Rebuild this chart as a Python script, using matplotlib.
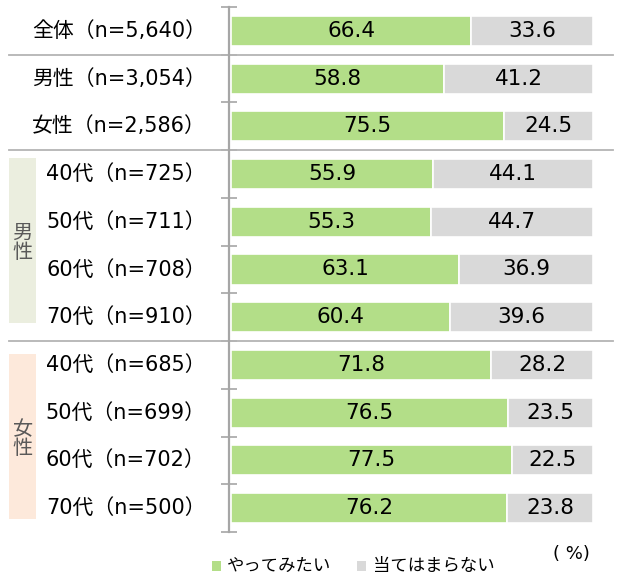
import matplotlib.pyplot as plt
from matplotlib.patches import Rectangle

plt.rcParams['font.family'] = ['DejaVu Sans', 'Noto Sans CJK JP']

labels = ["全体（n=5,640）", "男性（n=3,054）", "女性（n=2,586）",
          "40代（n=725）", "50代（n=711）", "60代（n=708）", "70代（n=910）",
          "40代（n=685）", "50代（n=699）", "60代（n=702）", "70代（n=500）"]
want = [66.4, 58.8, 75.5, 55.9, 55.3, 63.1, 60.4, 71.8, 76.5, 77.5, 76.2]
nope = [33.6, 41.2, 24.5, 44.1, 44.7, 36.9, 39.6, 28.2, 23.5, 22.5, 23.8]
series = ["やってみたい", "当てはまらない"]

GREEN = "#b3de88"
GREY = "#d9d9d9"
LINE = "#a6a6a6"

W, H = 617, 578
fig = plt.figure(figsize=(W / 100, H / 100), dpi=100)
ax = fig.add_axes([229 / W, 1 - 532 / H, (593 - 229) / W, (532 - 7) / H])

y = range(len(labels))
ax.barh(y, want, left=0, height=0.63, color=GREEN, edgecolor="white", linewidth=1.2)
ax.barh(y, nope, left=want, height=0.63, color=GREY, edgecolor="white", linewidth=1.2)

ax.set_xlim(-0.6, 100)
ax.set_ylim(len(labels) - 0.5, -0.5)

for i in y:
    ax.text(want[i] / 2, i, f"{want[i]:.1f}", ha="center", va="center", fontsize=15.5)
    ax.text(want[i] + nope[i] / 2, i, f"{nope[i]:.1f}", ha="center", va="center", fontsize=15.5)
    ax.text(-0.064, i, labels[i], transform=ax.get_yaxis_transform(),
            ha="right", va="center", fontsize=15)

# axis styling
for s in ["top", "right", "bottom"]:
    ax.spines[s].set_visible(False)
ax.spines["left"].set_color(LINE)
ax.spines["left"].set_linewidth(1.6)
ax.set_xticks([])
ax.set_yticks([i - 0.5 for i in range(len(labels) + 1)])
ax.set_yticklabels([])
ax.tick_params(axis="y", direction="inout", length=11, width=1.2, color=LINE)

# group separators
for b in [0.5, 2.5, 6.5]:
    ax.plot([-0.604, 1.055], [b, b], transform=ax.get_yaxis_transform(),
            color="#b4b4b4", linewidth=1.3, clip_on=False)

# side group boxes
ax.add_patch(Rectangle((-0.604, 2.665), 0.074, 3.46, transform=ax.get_yaxis_transform(),
                       facecolor="#ebeedf", edgecolor="none", clip_on=False))
ax.add_patch(Rectangle((-0.604, 6.77), 0.074, 3.46, transform=ax.get_yaxis_transform(),
                       facecolor="#fde9db", edgecolor="none", clip_on=False))
ax.text(-0.567, 4.45, "男\n性", transform=ax.get_yaxis_transform(), ha="center", va="center",
        fontsize=14.5, color="#595959", linespacing=1.0)
ax.text(-0.567, 8.55, "女\n性", transform=ax.get_yaxis_transform(), ha="center", va="center",
        fontsize=14.5, color="#595959", linespacing=1.0)

# legend
fig.patches.append(Rectangle((212 / W, 1 - 571 / H), 9 / W, 10 / H, transform=fig.transFigure,
                             facecolor=GREEN, edgecolor="none"))
fig.text(227 / W, 1 - 566 / H, series[0], ha="left", va="center", fontsize=12.5)
fig.patches.append(Rectangle((357 / W, 1 - 571 / H), 9 / W, 10 / H, transform=fig.transFigure,
                             facecolor=GREY, edgecolor="none"))
fig.text(373 / W, 1 - 566 / H, series[1], ha="left", va="center", fontsize=12.5)
fig.text(590 / W, 1 - 554 / H, "( %)", ha="right", va="center", fontsize=13)

fig.savefig("out.png", dpi=100)
